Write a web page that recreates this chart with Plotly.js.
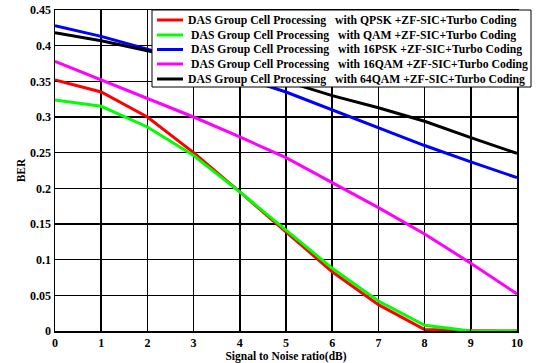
<!DOCTYPE html>
<html>
<head>
<meta charset="utf-8">
<script src="https://cdn.plot.ly/plotly-3.0.1.min.js"></script>
<style>html,body{margin:0;padding:0;background:#fff;}#chart{width:536px;height:363px;}</style>
</head>
<body>
<div id="chart"></div>
<script>
const snr = [0, 1, 2, 3, 4, 5, 6, 7, 8, 9, 10];
const berQPSK  = [0.352, 0.335, 0.300, 0.250, 0.195, 0.139, 0.083, 0.037, 0.002, 0.0005, 0.0];
const berQAM   = [0.324, 0.315, 0.286, 0.246, 0.195, 0.142, 0.088, 0.042, 0.008, 0.0, 0.0];
const ber16PSK = [0.428, 0.413, 0.395, 0.376, 0.356, 0.335, 0.310, 0.285, 0.260, 0.237, 0.215];
const ber16QAM = [0.378, 0.352, 0.325, 0.300, 0.272, 0.243, 0.208, 0.173, 0.136, 0.095, 0.052];
const ber64QAM = [0.418, 0.407, 0.393, 0.380, 0.366, 0.350, 0.330, 0.313, 0.294, 0.271, 0.249];
const seriesNames = [
  "DAS Group Cell Processing\u00a0\u00a0\u00a0with QPSK +ZF-SIC+Turbo Coding",
  "DAS Group Cell Processing\u00a0\u00a0\u00a0with QAM +ZF-SIC+Turbo Coding",
  "DAS Group Cell Processing\u00a0\u00a0\u00a0with 16PSK +ZF-SIC+Turbo Coding",
  "DAS Group Cell Processing\u00a0\u00a0\u00a0with 16QAM +ZF-SIC+Turbo Coding",
  "DAS Group Cell Processing\u00a0\u00a0\u00a0with 64QAM +ZF-SIC+Turbo Coding"
];
const seriesColors = ["#ff0000", "#00ff00", "#0000ff", "#ff00ff", "#000000"];
const seriesData = [berQPSK, berQAM, ber16PSK, ber16QAM, ber64QAM];

const traces = seriesData.map((y, i) => ({
  x: snr, y: y, type: "scatter", mode: "lines", name: seriesNames[i],
  line: {color: seriesColors[i], width: 3}
}));

const fontFam = "Liberation Serif";
const axisCommon = {
  showline: true, linecolor: "#000", linewidth: 1.5, mirror: "ticks",
  ticks: "inside", ticklen: 3, tickcolor: "#000",
  showgrid: true, gridcolor: "#000", gridwidth: 1.5, zeroline: false,
  tickfont: {family: fontFam, size: 12, color: "#000", weight: "bold"}
};

// legend drawn manually (box, line samples, labels) in paper coordinates
const plotL = 55, plotW = 462, plotT = 10, plotH = 321;
const px = v => (v - plotL) / plotW;
const py = v => 1 - (v - plotT) / plotH;
const legBox = {l: 152, r: 531, t: 10, b: 87};
const rowY = [20, 35, 49.5, 64, 79];
const rowX = [186, 189, 189, 189, 186];
const shapes = [{
  type: "rect", xref: "paper", yref: "paper",
  x0: px(legBox.l), x1: px(legBox.r), y0: py(legBox.b), y1: py(legBox.t),
  fillcolor: "#fff", line: {color: "#000", width: 1}, layer: "above"
}];
const annotations = [];
seriesNames.forEach((n, i) => {
  shapes.push({
    type: "line", xref: "paper", yref: "paper",
    x0: px(157), x1: px(183), y0: py(rowY[i]), y1: py(rowY[i]),
    line: {color: seriesColors[i], width: 3}, layer: "above"
  });
  annotations.push({
    xref: "paper", yref: "paper", x: px(rowX[i]), y: py(rowY[i]),
    xanchor: "left", yanchor: "middle", showarrow: false,
    text: "<b>" + n + "</b>",
    font: {family: fontFam, size: 11.7, color: "#000"}
  });
});

const layout = {
  width: 536, height: 363,
  margin: {l: 55, r: 19, t: 10, b: 32},
  paper_bgcolor: "#fff", plot_bgcolor: "#fff",
  showlegend: false,
  xaxis: Object.assign({}, axisCommon, {
    range: [0, 10], dtick: 1, tick0: 0,
    title: {text: "<b>Signal to Noise ratio(dB)</b>", font: {family: fontFam, size: 11.5, color: "#000"}, standoff: 1}
  }),
  yaxis: Object.assign({}, axisCommon, {
    range: [0, 0.45], dtick: 0.05, tick0: 0,
    title: {text: "<b>BER</b>", font: {family: fontFam, size: 11.5, color: "#000"}, standoff: 2}
  }),
  shapes: shapes,
  annotations: annotations
};
Plotly.newPlot("chart", traces, layout, {staticPlot: true, displayModeBar: false});
</script>
</body>
</html>
